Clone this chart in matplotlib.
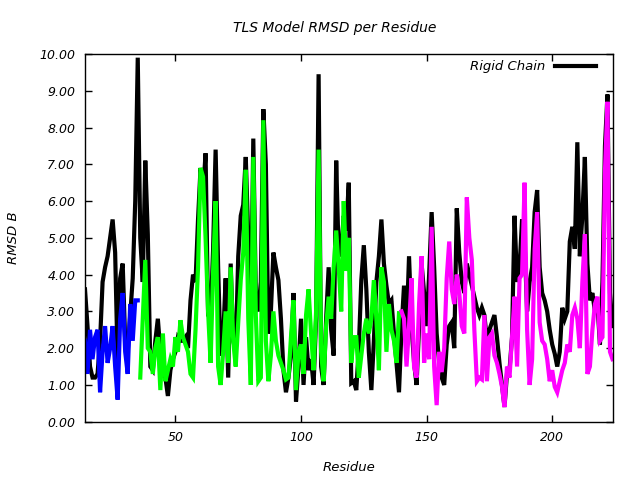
import numpy as np
import matplotlib
matplotlib.use("Agg")
import matplotlib.pyplot as plt

# Residue numbering
first_residue = 14
last_residue = 224

# Rigid chain RMSD (residues 14..224)
rigid = [
    3.6, 2.6, 1.5, 1.2, 1.2, 1.3, 2.2, 3.8, 4.2, 4.5,      # 14-23
    5.0, 5.5, 4.6, 1.6, 3.9, 4.3, 2.2, 1.9, 2.9, 3.9,      # 24-33
    6.0, 9.9, 5.0, 3.8, 7.1, 5.1, 1.5, 1.4, 2.2, 2.8,      # 34-43
    1.9, 1.4, 1.2, 0.7, 1.4, 1.7, 1.9, 2.3, 2.2, 2.2,      # 44-53
    2.3, 2.0, 3.3, 4.0, 3.8, 5.5, 6.9, 6.2, 7.3, 2.9,      # 54-63
    2.8, 4.7, 7.4, 4.2, 1.8, 2.3, 3.9, 1.2, 4.3, 2.2,      # 64-73
    1.9, 4.5, 5.6, 5.9, 7.2, 5.0, 2.5, 7.7, 3.5, 3.0,      # 74-83
    3.8, 8.5, 7.0, 2.4, 3.0, 4.6, 4.2, 3.85, 2.8, 1.4,     # 84-93
    0.8, 1.2, 1.8, 3.5, 0.55, 1.5, 2.8, 1.0, 2.3, 1.4,     # 94-103
    1.7, 1.0, 2.8, 9.45, 1.5, 1.0, 2.8, 4.2, 2.5, 1.8,     # 104-113
    7.1, 4.5, 4.7, 5.6, 5.2, 6.5, 1.05, 1.1, 0.86, 2.0,    # 114-123
    3.85, 4.8, 3.6, 1.9, 0.86, 2.2, 3.8, 4.5, 5.5, 4.3,    # 124-133
    3.7, 3.2, 3.3, 2.4, 1.6, 0.8, 2.5, 3.7, 2.5, 4.5,      # 134-143
    2.6, 1.6, 1.0, 2.6, 4.3, 3.5, 2.6, 4.0, 5.7, 4.2,      # 144-153
    2.4, 1.6, 1.2, 1.0, 2.1, 2.6, 2.7, 2.0, 5.8, 4.6,      # 154-163
    3.8, 3.5, 4.3, 4.0, 3.7, 3.4, 3.1, 2.9, 3.1, 2.9,      # 164-173
    2.2, 2.5, 2.7, 2.9, 2.3, 1.6, 1.0, 0.4, 1.3, 1.4,      # 174-183
    2.3, 5.6, 3.8, 4.2, 5.5, 4.9, 3.0, 3.8, 4.2, 5.7,      # 184-193
    6.3, 4.2, 3.5, 3.3, 3.0, 2.5, 2.1, 1.85, 1.5, 1.9,     # 194-203
    3.1, 2.8, 3.0, 4.9, 5.3, 4.7, 7.6, 4.5, 5.6, 7.2,      # 204-213
    4.3, 3.3, 3.5, 3.0, 3.2, 2.1, 3.8, 7.5, 8.9, 3.5,      # 214-223
    2.6,                                                   # 224
]

# TLS segment 1 (blue), residues 14..35
seg1_start = 14
seg1 = [2.2, 1.3, 2.5, 1.7, 2.3, 2.5, 0.8, 1.9, 2.6, 1.6,
        2.0, 2.6, 1.5, 0.6, 2.8, 3.5, 1.9, 1.3, 3.2, 2.2,
        3.3, 3.3]

# TLS segment 2 (green), residues 36..139
seg2_start = 36
seg2 = [1.2, 2.8, 4.4, 2.0, 1.9, 1.3, 2.0, 2.3, 0.86, 2.4,
        1.1, 1.4, 1.7, 1.5, 2.3, 1.9, 2.76, 2.3, 2.1, 1.9,
        1.3, 1.2, 2.5, 4.2, 6.9, 6.66, 5.0, 3.0, 1.6, 4.1,
        6.0, 1.5, 1.0, 1.9, 3.0, 1.6, 4.2, 2.2, 1.5, 2.7,
        3.85, 4.6, 6.85, 2.8, 1.0, 7.2, 2.9, 1.1, 1.2, 8.2,
        2.2, 1.1, 1.8, 3.0, 2.2, 1.8, 1.6, 1.4, 1.15, 1.2,
        2.3, 3.3, 0.86, 1.9, 2.1, 1.3, 2.9, 3.6, 2.4, 1.4,
        3.0, 7.4, 1.9, 1.1, 2.6, 3.4, 2.8, 4.2, 5.2, 4.2,
        3.0, 6.0, 4.1, 5.0, 1.6, 2.3, 2.3, 1.2, 1.8, 2.4,
        2.8, 2.4, 2.8, 3.85, 2.8, 1.4, 4.2, 3.8, 1.9, 3.2,
        2.5, 2.2, 1.6, 2.95]

# TLS segment 3 (magenta), residues 140..224
seg3_start = 140
seg3 = [3.0, 2.8, 1.5, 2.6, 3.9, 1.5, 1.2, 3.2, 4.5, 1.6,
        2.4, 1.7, 5.3, 1.5, 0.45, 1.9, 1.35, 2.0, 3.9, 4.9,
        3.6, 3.2, 4.0, 3.5, 2.6, 2.4, 6.1, 5.0, 4.4, 2.5,
        1.1, 1.2, 1.15, 2.9, 1.1, 2.3, 2.4, 1.8, 1.6, 1.3,
        0.95, 0.4, 1.5, 1.2, 2.3, 3.4, 1.5, 3.9, 4.0, 6.5,
        2.5, 1.0, 1.7, 4.7, 5.7, 2.7, 2.2, 2.1, 1.7, 1.1,
        1.4, 0.95, 0.8, 1.1, 1.4, 1.6, 2.1, 1.9, 2.9, 3.1,
        2.8, 2.0, 3.8, 5.1, 1.3, 1.5, 2.5, 3.2, 3.4, 2.2,
        2.3, 6.8, 8.7, 1.9, 1.7]

x_ticks = [50, 100, 150, 200]
y_ticks = [0, 1, 2, 3, 4, 5, 6, 7, 8, 9, 10]

plt.rcParams['font.family'] = ['DejaVu Sans']
plt.rcParams['font.style'] = 'italic'

fig = plt.figure(figsize=(6.4, 4.8), dpi=100)
ax = fig.add_axes([85/640, 1 - 421.7/480, (612.5-85)/640, (421.7-54)/480])

res = np.arange(first_residue, last_residue + 1)
ax.plot(res, rigid, color='black', lw=3, label='Rigid Chain', solid_joinstyle='miter')
for start, vals, col in [(seg1_start, seg1, '#0000ff'),
                         (seg2_start, seg2, '#00ff00'),
                         (seg3_start, seg3, '#ff00ff')]:
    xs = np.arange(start, start + len(vals))
    ax.plot(xs, vals, color=col, lw=3, solid_joinstyle='miter')

ax.set_xlim(first_residue, last_residue)
ax.set_ylim(0, 10)
ax.set_xticks(x_ticks)
ax.set_yticks(y_ticks)
ax.set_yticklabels([f"{v:.2f}" for v in y_ticks])
ax.tick_params(direction='in', top=True, right=True, length=5, width=1,
               labelsize=9, pad=7)
for s in ax.spines.values():
    s.set_linewidth(1)

ax.set_title('TLS Model RMSD per Residue', fontsize=10, pad=16, x=0.474)
ax.set_xlabel('Residue', fontsize=9.5, labelpad=12)
ax.set_ylabel('RMSD B', fontsize=9.5, labelpad=14)

ax.legend(loc='upper right', bbox_to_anchor=(0.9687, 0.9826), frameon=False,
          markerfirst=False, fontsize=9.5, handlelength=3.1,
          borderaxespad=0, borderpad=0, handletextpad=0.75)

fig.savefig('out.png', dpi=100)
